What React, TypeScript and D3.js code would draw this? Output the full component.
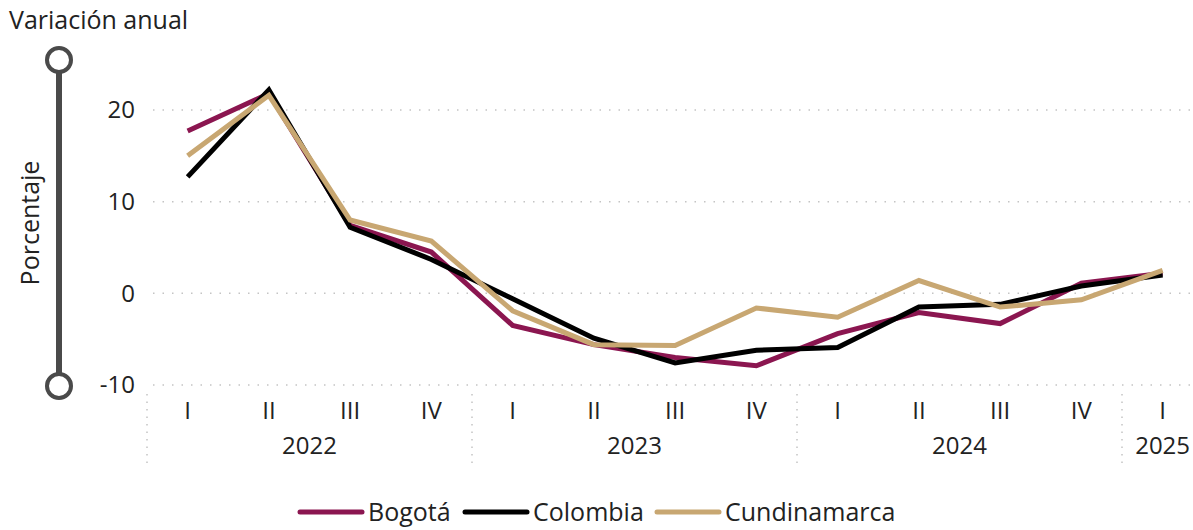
import React from 'react'
import * as d3 from 'd3'

// quarters and year groups
const quarters = ['I', 'II', 'III', 'IV', 'I', 'II', 'III', 'IV', 'I', 'II', 'III', 'IV', 'I']
const years = ['2022', '2023', '2024', '2025']
const quartersPerYear = [4, 4, 4, 1]

const bogota = [17.7, 21.8, 7.4, 4.5, -3.5, -5.6, -7.0, -7.9, -4.4, -2.1, -3.3, 1.1, 2.2]
const colombia = [12.7, 22.2, 7.2, 3.7, -0.6, -4.9, -7.6, -6.2, -5.9, -1.5, -1.2, 0.8, 2.0]
const cundinamarca = [15.0, 21.6, 8.0, 5.7, -1.9, -5.6, -5.7, -1.6, -2.6, 1.4, -1.5, -0.7, 2.5]

const yTicks = [-10, 0, 10, 20]

const series = [
  { name: 'Bogotá', values: bogota, color: '#8b1650' },
  { name: 'Colombia', values: colombia, color: '#000000' },
  { name: 'Cundinamarca', values: cundinamarca, color: '#c8a772' },
]

const W = 1193
const H = 530
const font = "'Segoe UI', 'Open Sans', 'Noto Sans', sans-serif"

export default function App() {
  const x = d3.scaleBand<number>()
    .domain(quarters.map((_, i) => i))
    .range([147, 147 + 13 * 81.25])
    .padding(0)
  const y = d3.scaleLinear().domain([-10, 20]).range([385, 110])
  const cx = (i: number) => (x(i) as number) + x.bandwidth() / 2

  const line = d3.line<number>()
    .x((_, i) => cx(i))
    .y((d) => y(d))

  // year groups
  let start = 0
  const groups = years.map((yr, k) => {
    const g = { yr, start, end: start + quartersPerYear[k] - 1 }
    start += quartersPerYear[k]
    return g
  })

  const legendX = [300, 465, 657]

  return (
    <div style={{ position: 'absolute', left: 0, top: 0 }}>
      <svg width={W} height={H} style={{ display: 'block', fontFamily: font }}>
        <rect width={W} height={H} fill="#fff" />

        {/* title and y-axis decoration */}
        <text x={9} y={29} fontSize={25} fill="#222">Variación anual</text>
        <line x1={59} x2={59} y1={60} y2={386} stroke="#4a4a4a" strokeWidth={6} />
        <circle cx={59} cy={60} r={12} fill="#fff" stroke="#4a4a4a" strokeWidth={4} />
        <circle cx={59} cy={386} r={12} fill="#fff" stroke="#4a4a4a" strokeWidth={4} />
        <text transform={`translate(39,223) rotate(-90)`} textAnchor="middle" fontSize={25} fill="#222">Porcentaje</text>

        {/* gridlines and y ticks */}
        {yTicks.map((t) => (
          <g key={t}>
            <line x1={153} x2={W} y1={y(t)} y2={y(t)} stroke="#c4c4c4" strokeWidth={1.5} strokeDasharray="1.5 8" />
            <text x={135} y={y(t)} dy="0.35em" textAnchor="end" fontSize={24} fill="#222">{t}</text>
          </g>
        ))}

        {/* x axis */}
        {quarters.map((q, i) => (
          <text key={i} x={cx(i)} y={419} textAnchor="middle" fontSize={24} fill="#222">{q}</text>
        ))}
        {groups.map((g) => (
          <g key={g.yr}>
            <line x1={x(g.start)} x2={x(g.start)} y1={394} y2={468} stroke="#c4c4c4" strokeWidth={1.5} strokeDasharray="1.5 6" />
            <text x={(cx(g.start) + cx(g.end)) / 2} y={454} textAnchor="middle" fontSize={24} fill="#222">{g.yr}</text>
          </g>
        ))}

        {/* series lines */}
        {series.map((s) => (
          <path key={s.name} d={line(s.values) as string} fill="none" stroke={s.color} strokeWidth={5} strokeLinejoin="miter" />
        ))}

        {/* legend */}
        {series.map((s, i) => (
          <g key={s.name} transform={`translate(${legendX[i]},512)`}>
            <line x1={0} x2={62} y1={0} y2={0} stroke={s.color} strokeWidth={5} strokeLinecap="round" />
            <text x={68} y={0} dy="0.35em" fontSize={25} fill="#222">{s.name}</text>
          </g>
        ))}
      </svg>
    </div>
  )
}
